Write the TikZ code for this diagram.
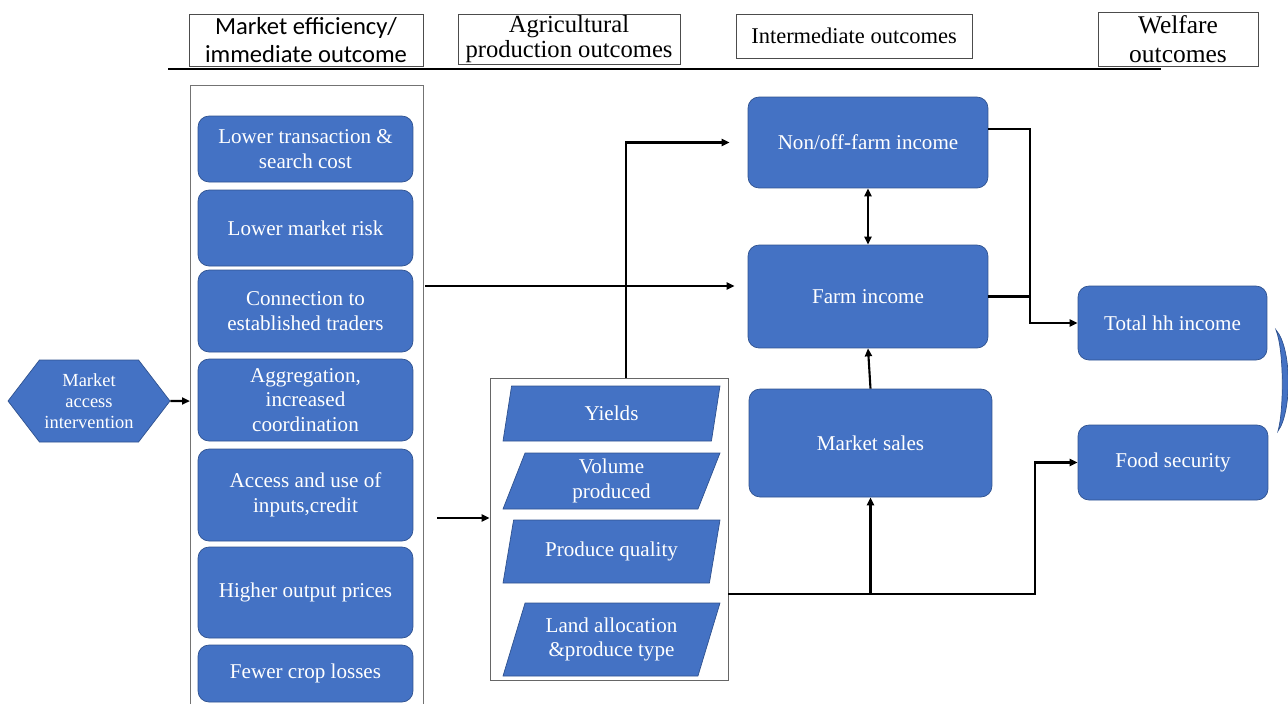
\documentclass[tikz,border=0pt]{standalone}
\usepackage{fontspec}
\setmainfont{Liberation Serif}
\newfontfamily\hfont{Carlito}
\usetikzlibrary{shapes.geometric,shapes.symbols,arrows.meta,calc}
\definecolor{boxblue}{HTML}{4472C4}
\definecolor{boxline}{HTML}{2F528F}
\begin{document}
\begin{tikzpicture}[x=0.02cm,y=-0.02cm,
  >={Triangle[length=1.6mm,width=1.4mm]},
  conn/.style={line width=1.2pt},
  rbox/.style={draw=boxline,fill=boxblue,rounded corners=0.22cm,text=white,align=center,inner sep=1pt,font=\fontsize{12}{14}\selectfont},
  pbox/.style={trapezium,trapezium left angle=65,trapezium right angle=115,trapezium stretches body,draw=boxline,fill=boxblue,text=white,align=center,inner sep=1pt,minimum width=4.34cm,font=\fontsize{12}{14}\selectfont},
  hbox/.style={draw=black!70,align=center,inner sep=1pt,font=\fontsize{12.8}{14}\selectfont}]
\useasboundingbox (0,0) rectangle (1288,704);

% headers
\node[hbox,font=\hfont\fontsize{14}{16}\selectfont,minimum width=4.68cm,minimum height=1.04cm] (h1) at (306,40) {Market efficiency/\\immediate outcome};
\node[hbox,font=\fontsize{14}{14.5}\selectfont,inner sep=0pt,minimum width=4.44cm,minimum height=1.0cm] (h2) at (569,39) {Agricultural\\production outcomes};
\node[hbox,minimum width=4.72cm,minimum height=0.88cm] (h3) at (854,36) {Intermediate outcomes};
\node[hbox,font=\fontsize{14.5}{16.5}\selectfont,inner sep=0pt,minimum width=3.2cm,minimum height=1.08cm] (h4) at (1178,39) {Welfare\\outcomes};
\draw[line width=1.2pt] (168,69) -- (1161,69);

% market efficiency column
\draw[black!55] (190,704) -- (190,85) -- (423,85) -- (423,704);
\node[rbox,minimum width=4.3cm,minimum height=1.32cm] (cost) at (305.5,149) {Lower transaction \&\\search cost};
\node[rbox,minimum width=4.3cm,minimum height=1.52cm] (risk) at (305.5,228) {Lower market risk};
\node[rbox,minimum width=4.3cm,minimum height=1.64cm] (traders) at (305.5,311) {Connection to\\established traders};
\node[rbox,minimum width=4.3cm,minimum height=1.64cm] (aggr) at (305.5,400) {Aggregation,\\increased\\coordination};
\node[rbox,minimum width=4.3cm,minimum height=1.84cm] (inputs) at (305.5,495) {Access and use of\\inputs,credit};
\node[rbox,minimum width=4.3cm,minimum height=1.82cm] (prices) at (305.5,592.5) {Higher output prices};
\node[rbox,minimum width=4.3cm,minimum height=1.14cm] (losses) at (305.5,673.5) {Fewer crop losses};
\coordinate (colL) at (190,401);
\coordinate (colR) at (425,286);
\coordinate (colO) at (437,518);

\node[signal,signal to=west and east,signal pointer angle=105,draw=boxline,fill=boxblue,text=white,align=center,inner sep=1pt,minimum width=3.24cm,minimum height=1.64cm,font=\fontsize{10.5}{12}\selectfont] (mai) at (89,401) {Market\\access\\intervention};

% production outcomes
\node[draw=black!60,minimum width=4.76cm,minimum height=6.04cm] (prod) at (609,529) {};
\node[pbox,minimum height=1.1cm] (yields) at (611.5,413.5) {Yields};
\node[pbox,minimum height=1.12cm] (volume) at (611.5,481) {Volume\\produced};
\node[pbox,minimum height=1.26cm] (quality) at (611.5,551.5) {Produce quality};
\node[pbox,minimum height=1.46cm] (land) at (611.5,639.5) {Land allocation\\\&produce type};
\coordinate (pTop) at (626,378);
\coordinate (pOut) at (728,594);

% intermediate and welfare outcomes
\node[rbox,minimum width=4.8cm,minimum height=1.82cm] (nonfarm) at (868,142.5) {Non/off-farm income};
\node[rbox,minimum width=4.8cm,minimum height=2.06cm] (farm) at (868,296.5) {Farm income};
\node[rbox,minimum width=4.86cm,minimum height=2.16cm] (sales) at (870.5,443) {Market sales};
\node[rbox,minimum width=3.78cm,minimum height=1.48cm] (total) at (1172.5,323) {Total hh income};
\node[rbox,minimum width=3.8cm,minimum height=1.5cm] (food) at (1173,462.5) {Food security};
\coordinate (jn) at (1030,296.5);
\filldraw[draw=boxline,fill=boxblue] (1276,330) .. controls (1292,348) and (1292,412) .. (1278,431) .. controls (1284,410) and (1284,350) .. (1276,330) -- cycle;

% edges
\draw[conn,->] (mai) -- (colL);
\draw[conn,->,shorten >=0.26cm] (colR) -- (colR -| farm.west);
\draw[conn,->] (colO) -- (colO -| prod.west);
\draw[conn,->,shorten >=0.36cm] (pTop) |- (nonfarm.west);
\draw[conn,->] (pOut) -- ++(307,0) |- (food.west);
\draw[conn,->] (sales.south |- pOut) -- (sales.south);
\draw[conn,->] (sales.north) -- (farm.south);
\draw[conn,<->] (nonfarm.south) -- (farm.north);
\draw[conn,->] ([yshift=0.27cm]nonfarm.east) -| (jn) |- (total.west);
\draw[conn] (farm.east) -- (jn);
\end{tikzpicture}
\end{document}
